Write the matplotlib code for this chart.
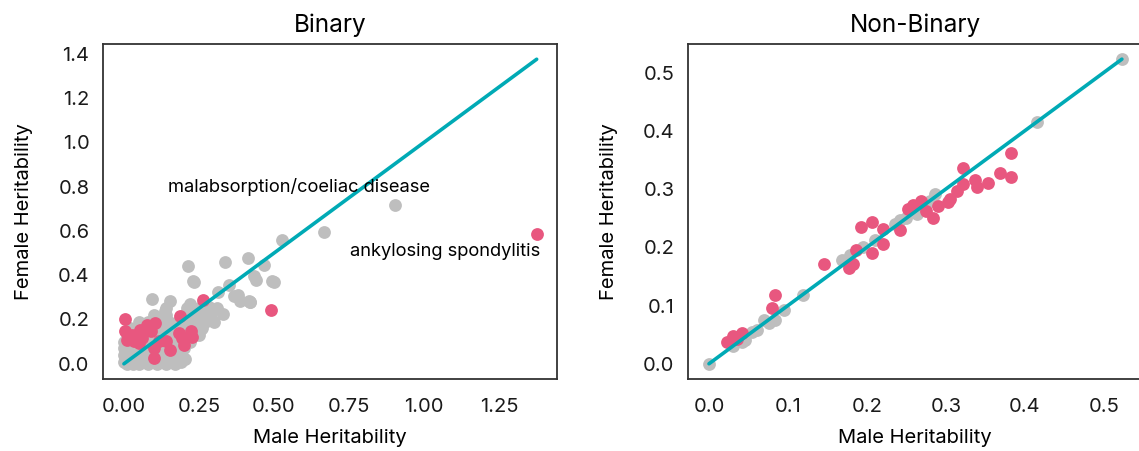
import matplotlib
matplotlib.use('agg')
import matplotlib.pyplot as plt

plt.rcParams['font.family'] = ['Inter', 'DejaVu Sans']

GREY = '#BEBEBE'
PINK = '#E8577F'
TEAL = '#00AAB5'

# Binary traits: (male, female) heritability
bin_grey_male = [0.903, 0.667, 0.526, 0.413, 0.336, 0.212, 0.466, 0.433, 0.494, 0.229,
                 0.349, 0.312, 0.367, 0.385, 0.415, 0.421, 0.329, 0.094, 0.152, 0.137,
                 0.221, 0.282, 0.258, 0.203, 0.155, 0.38, 0.42, 0.232, 0.50, 0.44,
                 0.00, 0.01, 0.02, 0.03, 0.04, 0.05, 0.06, 0.08, 0.09, 0.11, 0.12, 0.14, 0.15, 0.17, 0.19, 0.20,
                 0.00, 0.02, 0.04, 0.06, 0.08, 0.10, 0.13, 0.15, 0.18,
                 0.00, 0.02, 0.05, 0.07, 0.09, 0.12, 0.14, 0.16, 0.20,
                 0.00, 0.02, 0.04, 0.07, 0.09, 0.12, 0.15, 0.17, 0.20, 0.22,
                 0.01, 0.03, 0.06, 0.08, 0.11, 0.14, 0.17, 0.19, 0.22, 0.25,
                 0.02, 0.05, 0.07, 0.10, 0.13, 0.16, 0.19, 0.23, 0.26,
                 0.05, 0.08, 0.12, 0.15, 0.18, 0.21, 0.24, 0.27, 0.30,
                 0.10, 0.14, 0.20, 0.23, 0.26, 0.29,
                 0.14, 0.21, 0.25, 0.28, 0.31]
bin_grey_female = [0.717, 0.593, 0.560, 0.476, 0.461, 0.443, 0.448, 0.398, 0.376, 0.376,
                   0.356, 0.323, 0.308, 0.285, 0.285, 0.278, 0.225, 0.293, 0.282, 0.240,
                   0.270, 0.255, 0.158, 0.023, 0.015, 0.31, 0.28, 0.37, 0.37, 0.38,
                   0.01, 0.00, 0.01, 0.00, 0.01, 0.00, 0.01, 0.00, 0.01, 0.00, 0.01, 0.00, 0.01, 0.00, 0.01, 0.02,
                   0.04, 0.04, 0.04, 0.04, 0.04, 0.04, 0.04, 0.04, 0.04,
                   0.07, 0.07, 0.07, 0.07, 0.07, 0.07, 0.07, 0.07, 0.07,
                   0.10, 0.10, 0.10, 0.10, 0.10, 0.10, 0.10, 0.10, 0.10, 0.10,
                   0.13, 0.13, 0.13, 0.13, 0.13, 0.13, 0.13, 0.13, 0.13, 0.13,
                   0.16, 0.16, 0.16, 0.16, 0.16, 0.16, 0.16, 0.16, 0.16,
                   0.19, 0.19, 0.19, 0.19, 0.19, 0.19, 0.19, 0.19, 0.19,
                   0.22, 0.22, 0.22, 0.22, 0.22, 0.22,
                   0.25, 0.25, 0.25, 0.25, 0.25]
bin_pink_male = [0.002, 0.002, 0.011, 0.033, 0.050, 0.055, 0.078, 0.105, 0.089, 0.116,
                 0.100, 0.100, 0.139, 0.155, 0.188, 0.183, 0.222, 0.227, 0.200, 0.194,
                 0.264, 0.490, 0.061, 0.028, 1.375]
bin_pink_female = [0.202, 0.146, 0.108, 0.101, 0.093, 0.154, 0.176, 0.184, 0.146, 0.101,
                   0.071, 0.026, 0.101, 0.063, 0.214, 0.139, 0.146, 0.123, 0.086, 0.116,
                   0.289, 0.241, 0.116, 0.131, 0.588]

# Non-binary traits
nb_grey_male = [0.0, 0.030, 0.045, 0.042, 0.055, 0.061, 0.070, 0.076, 0.084, 0.095,
                0.119, 0.169, 0.178, 0.195, 0.210, 0.235, 0.242, 0.250, 0.263, 0.271,
                0.280, 0.286, 0.415, 0.523]
nb_grey_female = [0.0, 0.030, 0.040, 0.038, 0.055, 0.058, 0.075, 0.070, 0.075, 0.092,
                  0.118, 0.179, 0.186, 0.200, 0.212, 0.240, 0.246, 0.251, 0.257, 0.268,
                  0.280, 0.291, 0.415, 0.523]
nb_pink_male = [0.023, 0.030, 0.042, 0.036, 0.080, 0.083, 0.146, 0.177, 0.182, 0.186,
                0.192, 0.206, 0.206, 0.220, 0.220, 0.242, 0.252, 0.258, 0.269, 0.275,
                0.284, 0.290, 0.303, 0.305, 0.314, 0.322, 0.322, 0.337, 0.340, 0.354,
                0.369, 0.383, 0.383]
nb_pink_female = [0.038, 0.047, 0.053, 0.042, 0.095, 0.118, 0.172, 0.165, 0.172, 0.196,
                  0.235, 0.243, 0.190, 0.231, 0.206, 0.229, 0.266, 0.273, 0.280, 0.263,
                  0.251, 0.271, 0.277, 0.283, 0.297, 0.308, 0.336, 0.315, 0.303, 0.311,
                  0.328, 0.321, 0.362]

fig = plt.figure(figsize=(11.39, 4.51), dpi=100)
ax1 = fig.add_axes([0.0907, 0.1596, 0.3986, 0.7428])
ax2 = fig.add_axes([0.6043, 0.1596, 0.3987, 0.7428])


def panel(ax, gx, gy, px, py, title, xlim, ylim, xticks, yticks, xfmt, yfmt):
    ax.scatter(gx, gy, s=85, color=GREY, linewidths=0, zorder=2)
    ax.scatter(px, py, s=85, color=PINK, linewidths=0, zorder=3)
    top = max(gx + px)
    ax.plot([0, top], [0, top], color=TEAL, lw=2.6, zorder=4, solid_capstyle='round')
    ax.set_xlim(*xlim)
    ax.set_ylim(*ylim)
    ax.set_xticks(xticks)
    ax.set_yticks(yticks)
    ax.set_xticklabels([xfmt.format(v) for v in xticks])
    ax.set_yticklabels([yfmt.format(v) for v in yticks])
    ax.tick_params(length=0, labelsize=14.5, colors='#1a1a1a')
    ax.tick_params(axis='x', pad=14)
    ax.tick_params(axis='y', pad=10)
    for sp in ax.spines.values():
        sp.set_linewidth(1.3)
        sp.set_color('#333333')
    ax.set_title(title, fontsize=17.5, pad=9)
    ax.set_xlabel('Male Heritability', fontsize=14.5, labelpad=9)
    ax.set_ylabel('Female Heritability', fontsize=14.5, labelpad=18)


panel(ax1, bin_grey_male, bin_grey_female, bin_pink_male, bin_pink_female, 'Binary',
      (-0.0688, 1.4438), (-0.0688, 1.4438),
      [0, 0.25, 0.5, 0.75, 1.0, 1.25], [0, 0.2, 0.4, 0.6, 0.8, 1.0, 1.2, 1.4],
      '{:.2f}', '{:.1f}')
panel(ax2, nb_grey_male, nb_grey_female, nb_pink_male, nb_pink_female, 'Non-Binary',
      (-0.0262, 0.549), (-0.0262, 0.549),
      [0, 0.1, 0.2, 0.3, 0.4, 0.5], [0, 0.1, 0.2, 0.3, 0.4, 0.5],
      '{:.1f}', '{:.1f}')

ax1.text(0.584, 0.80, 'malabsorption/coeliac disease', fontsize=13.2,
         ha='center', va='center', zorder=5)
ax1.text(1.071, 0.506, 'ankylosing spondylitis', fontsize=13.2,
         ha='center', va='center', zorder=5)

fig.savefig('out.png', dpi=100)
